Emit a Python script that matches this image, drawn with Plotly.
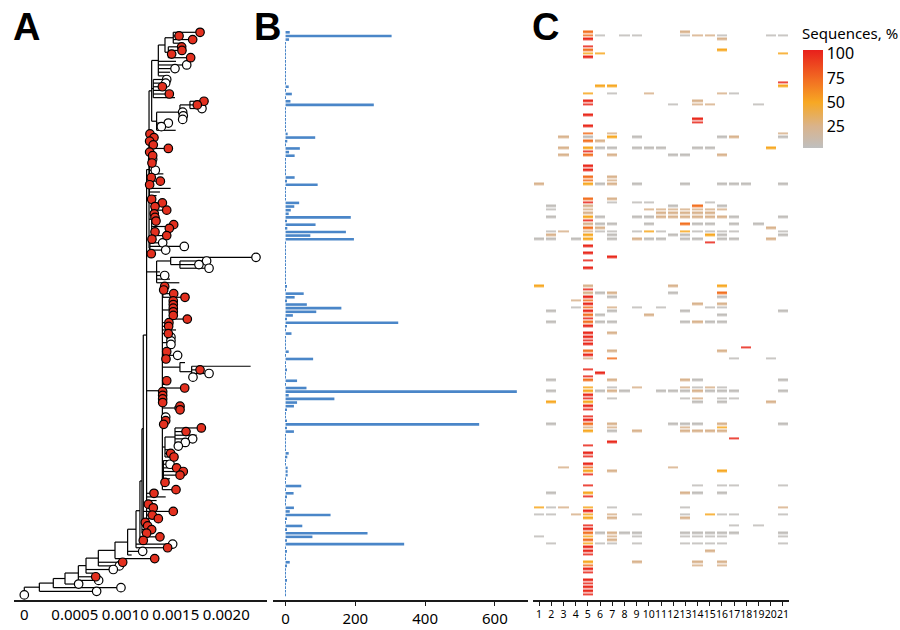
import plotly.graph_objects as go

# ---------------- data ----------------
N_ROWS = 156
rows = list(range(N_ROWS))

# divergence of each tip (row order, top to bottom)
tip_div = [
    0.001740, 0.001532, 0.001667, 0.001542, 0.001558, 0.001561, 0.001459, 0.001647, 0.001502, 0.001608,
    0.001492, 0.001443, 0.001410, 0.001410, 0.001400, 0.001367, 0.001400, 0.001436, 0.001492, 0.001779,
    0.001713, 0.001759, 0.001568, 0.001574, 0.001568, 0.001426, 0.001357, 0.001499, 0.001244, 0.001284,
    0.001241, 0.001277, 0.001426, 0.001241, 0.001271, 0.001271, 0.001264, 0.001310, 0.001297, 0.001377,
    0.001257, 0.001347, 0.001241, 0.001449, 0.001343, 0.001310, 0.001261, 0.001367, 0.001294, 0.001410,
    0.001287, 0.001294, 0.001304, 0.001479, 0.001436, 0.001294, 0.001410, 0.001264, 0.001370, 0.001584,
    0.001400, 0.001257, 0.002294, 0.001805, 0.001729, 0.001829, 0.001343, 0.001390, 0.001443, 0.001535,
    0.001390, 0.001380, 0.001479, 0.001591, 0.001475, 0.001475, 0.001475, 0.001475, 0.001475, 0.001614,
    0.001432, 0.001429, 0.001502, 0.001426, 0.001452, 0.001452, 0.001452, 0.001459, 0.001410, 0.001518,
    0.001403, 0.001591, 0.002241, 0.001740, 0.001829, 0.001670, 0.001410, 0.001393, 0.001588, 0.001370,
    0.001370, 0.001370, 0.001370, 0.001542, 0.001542, 0.001410, 0.001400, 0.001400, 0.001380, 0.001753,
    0.001601, 0.001707, 0.001667, 0.001594, 0.001525, 0.001443, 0.001449, 0.001482, 0.001426, 0.001443,
    0.001508, 0.001574, 0.001542, 0.001443, 0.001393, 0.001377, 0.001502, 0.001284, 0.001400, 0.001310,
    0.001228, 0.001277, 0.001475, 0.001267, 0.001327, 0.001198, 0.001221, 0.001261, 0.001211, 0.001343,
    0.001178, 0.001469, 0.001419, 0.001172, 0.001063, 0.001291, 0.000974, 0.000941, 0.000881, 0.000683,
    0.000707, 0.000736, 0.000538, 0.000957, 0.000716, 0.0,
]
# r = red tip, w = white tip, - = no symbol
tip_mark = ("rrr-rrrr-w" "w--wwr-r-r" "rwwwwww-rr" "rrrrrwr-w-" "rrr---rrrr"
            "rrrrrrrrww" "wrwwww-w--" "rrrrrrrrrr" "rr-rwww-rw" "r--rwwr-rr"
            "rrrrr-wrrr" "r-www-rr-w" "rrr-r-rr--" "rrrrrrrrrr" "rwrw-rrww-" "rwwwww")

# internal nodes: (first row, last row, divergence)
clades = [
    (0, 155, 0.0), (0, 154, 0.000149), (0, 153, 0.000287), (0, 152, 0.000403),
    (0, 151, 0.000535), (0, 149, 0.000611), (0, 147, 0.000733), (0, 145, 0.000898),
    (0, 144, 0.001023), (0, 142, 0.001106), (0, 140, 0.001145), (0, 138, 0.001165),
    (0, 135, 0.001178), (130, 134, 0.001211), (0, 129, 0.001211), (0, 61, 0.001235),
    (0, 27, 0.001261), (0, 12, 0.001327), (0, 7, 0.001393), (0, 3, 0.001475),
    (4, 7, 0.001426), (13, 18, 0.001277), (19, 27, 0.001310), (19, 24, 0.001541),
    (19, 21, 0.001640), (28, 39, 0.001238), (40, 45, 0.001238), (46, 57, 0.001261),
    (53, 54, 0.001410), (58, 61, 0.001244), (62, 69, 0.001310), (62, 65, 0.001449),
    (63, 65, 0.001541), (70, 126, 0.001367), (70, 73, 0.001372), (74, 79, 0.001459),
    (84, 87, 0.001426), (91, 95, 0.001541), (92, 95, 0.001657), (103, 104, 0.001492),
    (109, 117, 0.001393), (109, 114, 0.001492), (118, 124, 0.001377),
]

# number of sequences per row (panel B)
seq_counts = [1] * N_ROWS
for r_, v_ in {
    0: 12, 1: 304, 2: 10, 15: 9, 17: 18, 19: 14, 20: 253, 28: 6, 29: 85, 30: 5, 32: 41, 33: 10,
    34: 26, 40: 26, 41: 4, 42: 92, 47: 39, 48: 25, 49: 15, 50: 9, 51: 187, 52: 2, 53: 86, 54: 5,
    55: 173, 56: 71, 57: 196, 70: 3, 72: 52, 73: 26, 74: 3, 75: 61, 76: 160, 77: 88, 78: 21,
    79: 4, 80: 323, 81: 3, 83: 17, 88: 9, 90: 79, 93: 4, 96: 33, 98: 60, 99: 663, 100: 9,
    101: 140, 102: 33, 103: 24, 104: 4, 107: 4, 108: 555, 109: 3, 110: 24, 116: 9, 117: 5,
    120: 6, 121: 6, 122: 6, 125: 45, 127: 23, 128: 4, 131: 24, 132: 12, 133: 129, 134: 4,
    136: 48, 137: 4, 138: 235, 139: 77, 140: 4, 141: 340, 143: 4, 146: 12, 147: 4, 151: 4,
}.items():
    seq_counts[r_] = v_

# panel C: % of sequences per row and position
G, T, O, D, R = 5, 25, 50, 72, 100
heat = {
    0: {5: D, 13: T},
    1: {5: D, 6: G, 8: G, 9: G, 13: G, 14: T, 15: T, 16: G, 20: G, 21: G},
    2: {5: R, 16: T}, 4: {5: R}, 5: {5: D, 16: O}, 6: {5: O, 6: O, 21: O}, 7: {5: R},
    14: {21: R}, 15: {6: O, 7: O, 21: O}, 17: {5: O, 7: G, 10: T, 16: T, 17: G},
    19: {5: R, 14: T}, 20: {5: R, 12: G, 14: T, 15: T, 19: G},
    23: {5: R}, 24: {14: R}, 25: {14: R}, 26: {5: R},
    28: {5: D, 7: T, 21: T}, 29: {3: T, 5: G, 7: O, 9: G, 16: G, 17: T, 21: G},
    30: {5: D, 6: T},
    32: {3: T, 5: O, 6: G, 7: G, 9: G, 10: G, 11: G, 14: G, 15: G, 20: O},
    33: {5: R}, 34: {3: T, 5: D, 7: T, 12: G, 13: G, 16: T},
    37: {5: R}, 38: {5: R}, 40: {5: D, 7: T}, 41: {5: D, 7: T},
    42: {1: T, 5: O, 6: G, 7: T, 9: G, 13: G, 16: G, 17: G, 18: G, 21: G},
    46: {5: D, 7: T}, 47: {5: R, 7: G, 9: G, 10: G, 15: G},
    48: {2: G, 5: T, 12: G, 14: D, 16: G},
    49: {2: G, 5: T, 10: T, 11: T, 12: T, 13: T, 14: T, 15: T, 16: T},
    50: {5: T, 11: T, 12: T, 13: T, 14: T, 15: T},
    51: {2: G, 5: O, 6: G, 9: G, 10: G, 11: T, 12: T, 13: T, 14: T, 15: T, 16: T, 17: G, 21: G},
    52: {5: R},
    53: {5: T, 6: G, 7: G, 10: G, 13: D, 14: G, 15: G, 17: G, 19: G},
    54: {5: D, 6: T, 20: T},
    55: {2: G, 3: T, 5: T, 6: G, 7: G, 9: G, 10: O, 11: G, 13: O, 14: G, 15: G, 16: G, 17: G, 21: G},
    56: {2: T, 5: O, 7: G, 12: G, 13: G, 15: O, 16: G, 21: G},
    57: {1: G, 2: G, 4: G, 5: O, 7: G, 9: T, 10: G, 11: G, 13: G, 14: G, 16: G, 17: G, 20: T},
    58: {15: R}, 59: {5: R}, 61: {5: R}, 62: {7: R}, 63: {5: R}, 65: {5: R},
    70: {1: O, 5: T, 12: T, 16: O}, 71: {5: R}, 72: {5: T, 6: G, 7: T, 12: G, 16: D},
    73: {5: R, 7: G, 16: G}, 74: {4: T, 5: D}, 75: {5: R, 14: T, 16: T},
    76: {4: G, 5: D, 7: T, 9: G, 11: G, 15: G, 16: G}, 77: {2: G, 5: R, 7: G, 13: G, 21: G},
    78: {5: D, 6: G, 10: T, 16: G}, 79: {5: R},
    80: {2: G, 5: D, 6: G, 7: G, 13: G, 14: T, 15: G, 16: G}, 81: {5: R},
    83: {5: R, 7: T}, 84: {5: R}, 85: {5: R}, 86: {5: R}, 87: {18: R},
    88: {5: D, 7: T, 16: T}, 89: {5: R}, 90: {5: T, 7: D, 17: G, 20: G},
    93: {5: R}, 94: {6: R}, 95: {5: R}, 96: {2: G, 5: D, 7: T, 13: T, 14: G, 21: G},
    98: {5: O, 7: G, 9: T, 13: T, 14: G, 15: T, 16: G},
    99: {2: G, 5: O, 6: G, 7: T, 8: G, 11: G, 12: G, 13: G, 14: T, 15: G, 16: G, 17: G, 21: G},
    100: {5: R}, 101: {5: R, 7: G, 13: G, 14: T, 16: G, 17: G},
    102: {2: O, 5: O, 14: G, 16: G, 20: T}, 103: {5: R}, 104: {5: R}, 106: {5: R}, 107: {5: R},
    108: {2: G, 5: D, 7: T, 12: G, 13: G, 14: G, 16: T, 21: G},
    109: {5: T, 7: T, 13: T, 16: O}, 110: {5: O, 7: G, 9: T, 13: T, 14: T, 15: T, 16: T},
    112: {17: R}, 113: {7: R}, 114: {5: R}, 116: {5: R}, 117: {5: R}, 119: {5: R},
    120: {3: T, 5: D, 12: T}, 121: {5: O, 7: T, 16: O}, 122: {5: R},
    125: {5: R, 14: G, 16: G, 17: G, 21: G}, 127: {2: G, 5: O, 13: T, 14: G, 16: G}, 128: {5: R},
    131: {1: O, 2: G, 3: T, 5: O, 7: G, 13: G, 21: T}, 132: {5: R},
    133: {1: G, 2: G, 4: T, 5: O, 7: T, 9: G, 13: G, 15: O, 16: G, 17: G, 21: G},
    134: {5: O, 7: T, 13: T}, 136: {5: R, 17: G, 19: G}, 137: {5: R},
    138: {5: D, 6: G, 7: T, 8: G, 9: G, 13: G, 14: G, 15: G, 16: G, 17: G, 21: G},
    139: {1: G, 5: O, 7: T, 9: G, 13: G, 14: G, 15: G, 16: G, 21: G}, 140: {5: D, 7: T},
    141: {2: G, 5: O, 6: G, 7: G, 9: G, 13: G, 14: G, 15: G, 16: G, 21: G},
    142: {5: R}, 143: {5: R, 15: T}, 144: {5: R},
    146: {5: O, 9: T, 14: T, 16: T}, 147: {5: D, 14: T, 16: T}, 148: {5: R}, 149: {5: R},
    151: {5: R}, 152: {5: R}, 153: {5: R}, 154: {5: R}, 155: {5: R},
}
positions = list(range(1, 22))

tree_ticks = [0, 0.0005, 0.0010, 0.0015, 0.0020]
tree_tick_text = ["0", "0.0005", "0.0010", "0.0015", "0.0020"]
bar_ticks = [0, 200, 400, 600]
cbar_ticks = [25, 50, 75, 100]

# ---------------- tree geometry ----------------
def clade_parent(i):
    f0, l0, _ = clades[i]
    best = None
    for j, (f, l, d) in enumerate(clades):
        if j != i and f <= f0 and l0 <= l and (l - f) > (l0 - f0):
            if best is None or (l - f) < (clades[best][1] - clades[best][0]):
                best = j
    return best

def tip_parent(r):
    best = None
    for j, (f, l, d) in enumerate(clades):
        if f <= r <= l:
            if best is None or (l - f) < (clades[best][1] - clades[best][0]):
                best = j
    return best

children = {i: [] for i in range(len(clades))}
for i in range(len(clades)):
    p = clade_parent(i)
    if p is not None:
        children[p].append(("c", i))
for r in rows:
    children[tip_parent(r)].append(("t", r))

memo = {}
def child_pos(c):
    kind, k = c
    if kind == "t":
        return tip_div[k], float(k)
    return clades[k][2], node_y(k)

def node_y(i):
    if i in memo:
        return memo[i]
    ys = [child_pos(c)[1] for c in children[i]]
    memo[i] = (min(ys) + max(ys)) / 2
    return memo[i]

lx, ly = [], []
for i, (f, l, d) in enumerate(clades):
    ys = [child_pos(c)[1] for c in children[i]]
    lx += [d, d, None]
    ly += [min(ys), max(ys), None]
    for c in children[i]:
        cx, cy = child_pos(c)
        lx += [d, cx, None]
        ly += [cy, cy, None]

red_x = [tip_div[r] for r in rows if tip_mark[r] == "r"]
red_y = [r for r in rows if tip_mark[r] == "r"]
wht_x = [tip_div[r] for r in rows if tip_mark[r] == "w"]
wht_y = [r for r in rows if tip_mark[r] == "w"]

z = [[heat.get(r, {}).get(p) for p in positions] for r in rows]

# ---------------- figure ----------------
FONT = "Noto Sans"
fig = go.Figure()
fig.add_trace(go.Scatter(x=lx, y=ly, mode="lines", line=dict(color="black", width=1.2),
                         xaxis="x", yaxis="y", hoverinfo="skip", showlegend=False))
fig.add_trace(go.Scatter(x=wht_x, y=wht_y, mode="markers",
                         marker=dict(size=8.5, color="white", line=dict(color="black", width=1.2)),
                         xaxis="x", yaxis="y", showlegend=False))
fig.add_trace(go.Scatter(x=red_x, y=red_y, mode="markers",
                         marker=dict(size=8.5, color="#e3301f", line=dict(color="black", width=1.2)),
                         xaxis="x", yaxis="y", showlegend=False))
fig.add_trace(go.Bar(x=seq_counts, y=rows, orientation="h", marker=dict(color="#4a86c8", line=dict(width=0)),
                     width=0.72, xaxis="x2", yaxis="y", showlegend=False))
fig.add_trace(go.Heatmap(
    z=z, x=positions, y=rows, xaxis="x3", yaxis="y", zmin=3, zmax=104, xgap=2, ygap=1.3,
    colorscale=[[0, "#bfbfbf"], [0.22, "#d9b38c"], [0.465, "#f7a823"], [0.69, "#f26f22"], [1, "#e8201c"]],
    hoverongaps=False,
    colorbar=dict(x=803 / 900, xanchor="left", xpad=0, y=(600 - 99) / 580, yanchor="middle",
                  len=98, lenmode="pixels", thickness=20, outlinewidth=0, ypad=0,
                  tickvals=cbar_ticks, ticks="", tickfont=dict(size=16, color="black", family=FONT)),
))

axis_common = dict(showgrid=False, zeroline=False, showline=True, linecolor="#1a1a1a", linewidth=1.6,
                   anchor="y", tickangle=0)
fig.update_layout(
    width=900, height=630,
    margin=dict(l=0, r=0, t=20, b=30),
    paper_bgcolor="white", plot_bgcolor="white",
    xaxis=dict(domain=[14 / 900, 267 / 900], range=[-0.000102, 0.002403], tickvals=tree_ticks,
               ticktext=tree_tick_text, ticks="", tickfont=dict(family=FONT, color="black", size=15),
               **axis_common),
    xaxis2=dict(domain=[273 / 900, 528 / 900], range=[-36, 695], tickvals=bar_ticks, ticks="outside",
                ticklen=4, tickcolor="#1a1a1a", tickfont=dict(family=FONT, color="black", size=15),
                **axis_common),
    xaxis3=dict(domain=[533 / 900, 789 / 900], range=[0.5, 21.5], tickvals=positions, ticks="outside",
                ticklen=4, tickcolor="#1a1a1a", tickfont=dict(family=FONT, color="black", size=10.5),
                **axis_common),
    yaxis=dict(domain=[0, 1], range=[156.4, -3.39], visible=False),
)

for txt, cx in (("A", 26), ("B", 267), ("C", 545)):
    fig.add_annotation(text="<b>%s</b>" % txt, x=cx / 900, y=(600 - 27) / 580, xref="paper", yref="paper",
                       xanchor="center", yanchor="middle", showarrow=False,
                       font=dict(size=38, color="black", family="Liberation Sans"))
fig.add_annotation(text="Sequences, %", x=800 / 900, y=(600 - 33) / 580, xref="paper", yref="paper",
                   xanchor="left", yanchor="middle", showarrow=False,
                   font=dict(size=15, color="black", family=FONT))

fig.write_html("out.html", config={"displayModeBar": False},
               post_script="document.body.style.margin='0';")
